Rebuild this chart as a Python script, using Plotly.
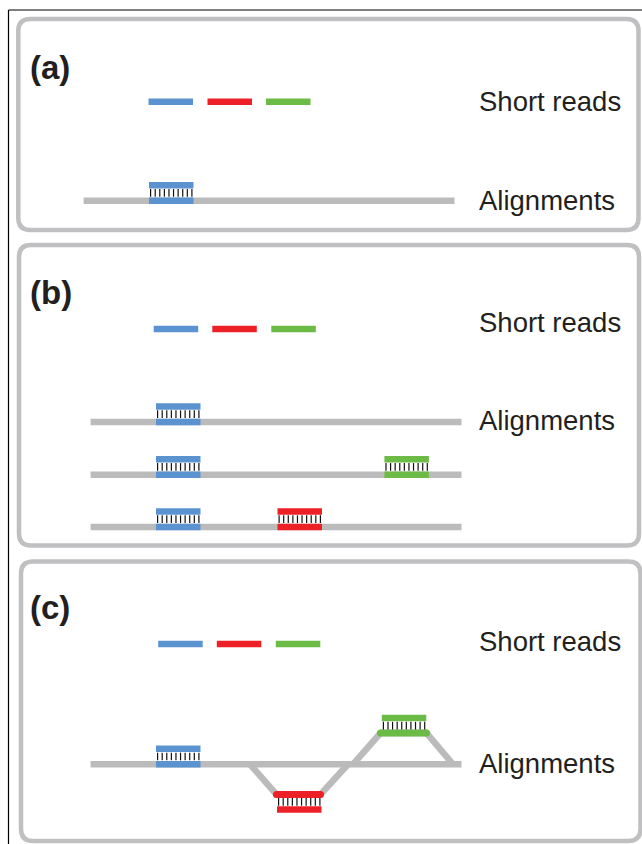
import numpy as np
import plotly.graph_objects as go

# ---------------- data (diagram coordinates) ----------------
panel_labels = ["(a)", "(b)", "(c)"]
box_x0 = [18.3, 19.0, 21.0]
box_x1 = [638.5, 639.0, 640.5]
box_y0 = [19.0, 245.0, 561.5]
box_y1 = [230.0, 545.5, 841.0]
label_y = [67, 292, 607]
short_reads_text_y = [101, 322.5, 641]
alignments_text_y = [200, 420, 763]

read_names = ["blue", "red", "green"]
read_colors = ["#5B93D1", "#EE2027", "#6CBB46"]
read_len = 44.5
short_reads_y = [101.7, 329.0, 644.0]
short_read_starts = [[148.5, 207.5, 266.0],
                     [153.7, 212.3, 271.3],
                     [158.2, 216.8, 275.8]]

# reference (genome) lines
ref_x0 = [83.6, 90.6, 90.6, 90.6, 90.6]
ref_x1 = [454.5, 461.5, 461.5, 461.5, 461.5]
ref_y = [200.7, 422.0, 474.7, 527.0, 764.3]

# contiguous alignments: (read index, start, reference line index)
aln_read = [0, 0, 0, 2, 0, 1, 0]
aln_start = [149.0, 156.0, 156.0, 384.4, 156.0, 277.5, 156.0]
aln_ref = [0, 1, 2, 2, 3, 3, 4]

# spliced alignments in panel (c)
splice_read = [1, 2]
splice_path_x = [[250.0, 276.5, 320.5, 348.0], [353.0, 380.5, 426.5, 453.0]]
splice_exon_y = [794.5, 733.0]
splice_read_start = [277.0, 381.8]
splice_dir = [1, -1]   # read lies below (+1) or above (-1) the exon bar

GRAY = "#BBBBBB"
BOX = "#C0C0C2"
TEXT = "#231F20"
W, H = 642, 844

fig = go.Figure()


def line(xs, ys, color, width):
    fig.add_trace(go.Scatter(x=xs, y=ys, mode="lines",
                             line=dict(color=color, width=width),
                             hoverinfo="skip", showlegend=False))


def ticks(x0, y):
    xs = np.linspace(x0 + 1.6, x0 + read_len - 1.6, 10)
    fig.add_trace(go.Scatter(x=xs, y=[y] * len(xs), mode="markers",
                             marker=dict(symbol="line-ns", size=5.5,
                                         line=dict(color="#111111", width=1.2)),
                             hoverinfo="skip", showlegend=False))


def rounded(x0, y0, x1, y1, r):
    return (f"M{x0+r},{y0} L{x1-r},{y0} Q{x1},{y0} {x1},{y0+r} "
            f"L{x1},{y1-r} Q{x1},{y1} {x1-r},{y1} L{x0+r},{y1} "
            f"Q{x0},{y1} {x0},{y1-r} L{x0},{y0+r} Q{x0},{y0} {x0+r},{y0} Z")


shapes = []
for i in range(3):
    shapes.append(dict(type="path", xref="x", yref="y",
                       path=rounded(box_x0[i], box_y0[i], box_x1[i], box_y1[i], 12),
                       line=dict(color=BOX, width=4.5)))
shapes.append(dict(type="line", xref="x", yref="y", x0=8.5, x1=8.5, y0=10, y1=H,
                   line=dict(color="black", width=1.2)))
shapes.append(dict(type="line", xref="x", yref="y", x0=8.5, x1=W, y0=10, y1=10,
                   line=dict(color="black", width=1.2)))

# short reads
for p in range(3):
    for k in range(3):
        s = short_read_starts[p][k]
        line([s, s + read_len], [short_reads_y[p]] * 2, read_colors[k], 6.5)

# reference lines
for j in range(len(ref_y)):
    line([ref_x0[j], ref_x1[j]], [ref_y[j]] * 2, GRAY, 6.5)

# spliced gray paths
for m in range(2):
    xs = splice_path_x[m]
    ys = [ref_y[4], splice_exon_y[m], splice_exon_y[m], ref_y[4]]
    line(xs, ys, GRAY, 6.5)

# contiguous alignments
for a in range(len(aln_read)):
    c = read_colors[aln_read[a]]
    s = aln_start[a]
    y = ref_y[aln_ref[a]]
    line([s, s + read_len], [y, y], c, 6.5)
    line([s, s + read_len], [y - 15.5, y - 15.5], c, 6.5)
    ticks(s, y - 7.8)

# spliced alignments
for m in range(2):
    c = read_colors[splice_read[m]]
    xs = splice_path_x[m]
    ye = splice_exon_y[m]
    fig.add_trace(go.Scatter(x=[xs[1], xs[2]], y=[ye, ye], mode="lines+markers",
                             line=dict(color=c, width=7),
                             marker=dict(symbol="circle", size=7, color=c),
                             hoverinfo="skip", showlegend=False))
    s = splice_read_start[m]
    d = splice_dir[m]
    line([s, s + read_len], [ye + d * 15, ye + d * 15], c, 6.5)
    ticks(s, ye + d * 7.3)

ann = []
for p in range(3):
    ann.append(dict(x=27.5, y=label_y[p], text=f"<b>{panel_labels[p]}</b>",
                    xanchor="left", yanchor="middle", showarrow=False,
                    font=dict(family="Liberation Sans", size=33, color=TEXT)))
    ann.append(dict(x=477, y=short_reads_text_y[p], text="Short reads",
                    xanchor="left", yanchor="middle", showarrow=False,
                    font=dict(family="Liberation Sans", size=27.5, color=TEXT)))
    ann.append(dict(x=477, y=alignments_text_y[p], text="Alignments",
                    xanchor="left", yanchor="middle", showarrow=False,
                    font=dict(family="Liberation Sans", size=27.5, color=TEXT)))

fig.update_layout(
    width=W, height=H, margin=dict(l=0, r=0, t=0, b=0, pad=0),
    paper_bgcolor="white", plot_bgcolor="white",
    xaxis=dict(range=[0, W], visible=False, fixedrange=True),
    yaxis=dict(range=[H, 0], visible=False, fixedrange=True),
    shapes=shapes, annotations=ann, showlegend=False,
)
fig.write_html("out.html",
               config={"displayModeBar": False, "staticPlot": True},
               post_script="document.body.style.margin='0';"
                           "document.body.style.overflow='hidden';")
